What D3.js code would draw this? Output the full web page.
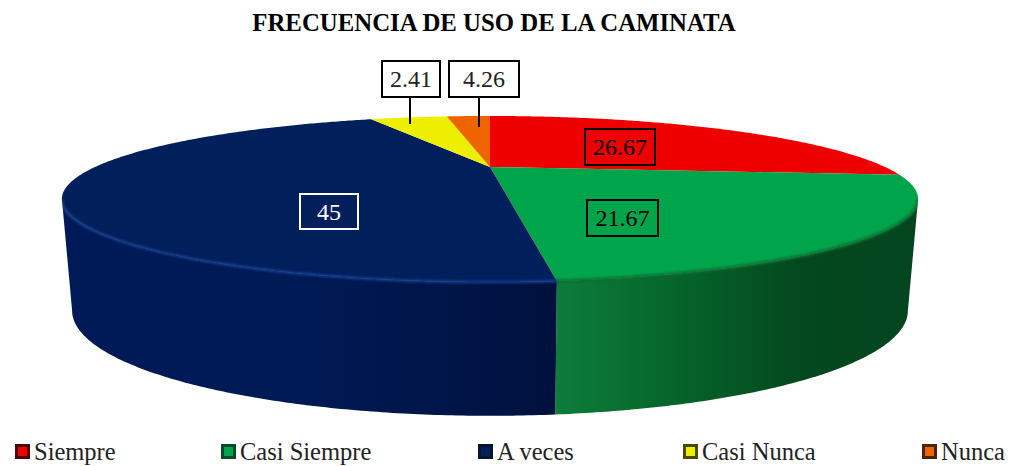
<!DOCTYPE html>
<html>
<head>
<meta charset="utf-8">
<script src="https://cdn.jsdelivr.net/npm/d3@7"></script>
<style>
  html, body { margin: 0; background: #fff; }
  text { font-family: "Liberation Serif", serif; }
</style>
</head>
<body>
<div id="chart"></div>
<script>
const categories = ['Siempre', 'Casi Siempre', 'A veces', 'Casi Nunca', 'Nunca'];
// the slices as drawn: yellow is the bigger one of the two small slices
const sliceValues = [26.67, 21.67, 45, 4.26, 2.41];
// the numbers printed in the boxes
const valueLabels = ['26.67', '21.67', '45', '2.41', '4.26'];

const colors = ['#ee0000', '#00a44a', '#001f5b', '#eeee00', '#f06400'];
const rimColors = ['#ee0000', '#0a6e35', '#173a88', '#eeee00', '#f06400'];
const legendDark = ['#4a0808', '#0a4a26', '#0a1430', '#4a4a08', '#4a2408'];
const legendX = [15, 221, 478, 683, 922];

const width = 1014, height = 466;
const perspective = 0.3855;
const step = Math.PI / 360;

// scales of the top and the bottom disc, unit circle -> page
const topX = d3.scaleLinear().domain([-1, 1]).range([490 - 395, 490 + 395]);
const topY = d3.scaleLinear().domain([-1, 1]).range([167 - 70.7, 167 + 70.7]);
const botX = d3.scaleLinear().domain([-1, 1]).range([490 - 385.6, 490 + 385.6]);
const botY = d3.scaleLinear().domain([-1, 1]).range([270 - 89.6, 270 + 89.6]);

function project(a, sx, sy) {
    const u = Math.sin(a), v = -Math.cos(a);
    const w = 1 - perspective * v;
    return [sx(u / w), sy(v / w)];
}

function rimAngles(from, to) {
    return d3.range(from, to, step).concat(to);
}

const svg = d3.select('#chart').append('svg')
    .attr('width', width)
    .attr('height', height)
    .style('display', 'block');

const defs = svg.append('defs');
defs.append('filter').attr('id', 'soft')
    .attr('filterUnits', 'userSpaceOnUse')
    .attr('x', 0).attr('y', 0).attr('width', width).attr('height', height)
    .append('feGaussianBlur').attr('stdDeviation', 1.3);

// wall shading runs from left to right across the page
const wallStops = [
    {id: 'wallNavy', x1: 60, x2: 553, stops: [[0, '#001a58'], [0.5, '#001a55'], [1, '#00113e']]},
    {id: 'wallGreen', x1: 553, x2: 925, stops: [[0, '#0d7d3a'], [0.26, '#066a2d'], [0.66, '#04481f'], [1, '#04451f']]}
];
wallStops.forEach(w => {
    const g = defs.append('linearGradient').attr('id', w.id)
        .attr('gradientUnits', 'userSpaceOnUse')
        .attr('x1', w.x1).attr('x2', w.x2).attr('y1', 0).attr('y2', 0);
    w.stops.forEach(s => g.append('stop').attr('offset', s[0]).attr('stop-color', s[1]));
});
const wallFill = {1: 'url(#wallGreen)', 2: 'url(#wallNavy)'};

svg.append('text')
    .attr('x', 494)
    .attr('y', 31)
    .attr('text-anchor', 'middle')
    .style('font-size', '24.8px')
    .style('font-weight', 'bold')
    .attr('fill', '#000')
    .text('FRECUENCIA DE USO DE LA CAMINATA');

const slices = d3.pie().sort(null)(sliceValues);
const line = d3.line();

// the disc edge turns away from the viewer at this angle
const frontFrom = Math.acos(-perspective), frontTo = 2 * Math.PI - frontFrom;
const frontSlices = slices.filter(s => s.endAngle > frontFrom && s.startAngle < frontTo);

function wallPath(s) {
    const angles = rimAngles(Math.max(s.startAngle, frontFrom), Math.min(s.endAngle, frontTo));
    const upper = angles.map(a => project(a, topX, topY));
    const lower = angles.map(a => project(a, botX, botY)).reverse();
    return line(upper.concat(lower)) + 'Z';
}

const centre = [topX(0), topY(0)];
function facePath(s) {
    return line([centre].concat(rimAngles(s.startAngle, s.endAngle).map(a => project(a, topX, topY)))) + 'Z';
}

// keeps the blurred rim inside the outline of the pie
const clip = defs.append('clipPath').attr('id', 'pieOutline');
slices.forEach(s => clip.append('path').attr('d', facePath(s)));
frontSlices.forEach(s => clip.append('path').attr('d', wallPath(s)));

svg.append('g')
    .selectAll('path')
    .data(frontSlices)
    .enter()
    .append('path')
    .attr('d', wallPath)
    .attr('fill', s => wallFill[s.index]);

svg.append('g')
    .selectAll('path')
    .data(slices)
    .enter()
    .append('path')
    .attr('d', facePath)
    .attr('fill', (s, i) => colors[i]);

// soft highlight along the front rim
svg.append('g')
    .attr('clip-path', 'url(#pieOutline)')
    .append('g')
    .attr('filter', 'url(#soft)')
    .selectAll('path')
    .data(frontSlices)
    .enter()
    .append('path')
    .attr('d', s => line(rimAngles(Math.max(s.startAngle, frontFrom), Math.min(s.endAngle, frontTo))
        .map(a => project(a, topX, topY))))
    .attr('fill', 'none')
    .attr('stroke', s => rimColors[s.index])
    .attr('stroke-width', 3);

// value boxes and their leader lines
const boxes = [
    {x: 585, y: 129, w: 70, h: 36, stroke: '#000', text: '#000'},
    {x: 587, y: 200, w: 71, h: 36, stroke: '#000', text: '#000'},
    {x: 300, y: 194, w: 58, h: 35, stroke: '#fff', text: '#fff'},
    {x: 382, y: 61, w: 58, h: 36, stroke: '#000', text: '#222', leaderX: 410, leaderY: 124},
    {x: 449, y: 61, w: 70, h: 36, stroke: '#000', text: '#222', leaderX: 479, leaderY: 127}
];
const label = svg.append('g')
    .selectAll('g')
    .data(boxes)
    .enter()
    .append('g');
label.filter(d => d.leaderX)
    .append('line')
    .attr('x1', d => d.leaderX)
    .attr('x2', d => d.leaderX)
    .attr('y1', d => d.y + d.h)
    .attr('y2', d => d.leaderY)
    .attr('stroke', '#000')
    .attr('stroke-width', 2);
label.append('rect')
    .attr('x', d => d.x)
    .attr('y', d => d.y)
    .attr('width', d => d.w)
    .attr('height', d => d.h)
    .attr('fill', 'none')
    .attr('stroke', d => d.stroke)
    .attr('stroke-width', 2);
label.append('text')
    .attr('x', d => d.x + d.w / 2)
    .attr('y', d => d.y + d.h / 2 + 8)
    .attr('text-anchor', 'middle')
    .style('font-size', '24px')
    .attr('fill', d => d.text)
    .text((d, i) => valueLabels[i]);

// legend
const legend = svg.append('g')
    .selectAll('g')
    .data(categories)
    .enter()
    .append('g')
    .attr('transform', (d, i) => 'translate(' + legendX[i] + ',0)');
legend.append('rect')
    .attr('y', 444)
    .attr('width', 15)
    .attr('height', 15)
    .attr('fill', (d, i) => legendDark[i]);
legend.append('rect')
    .attr('x', 3)
    .attr('y', 447)
    .attr('width', 9)
    .attr('height', 9)
    .attr('fill', (d, i) => colors[i]);
legend.append('text')
    .attr('x', 19)
    .attr('y', 460)
    .style('font-size', '24.5px')
    .attr('fill', '#222')
    .text(d => d);
</script>
</body>
</html>
